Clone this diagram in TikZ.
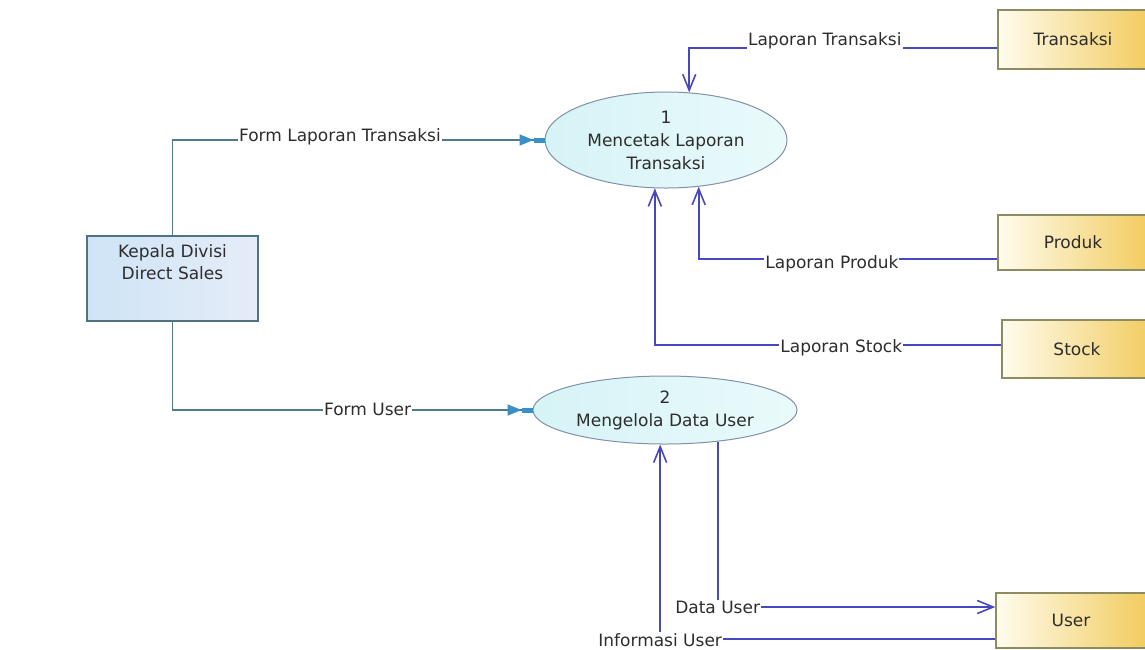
\documentclass[tikz,border=0pt]{standalone}
\usepackage{fontspec}
\setmainfont{DejaVu Sans}
\usetikzlibrary{arrows.meta,shapes.geometric}

\definecolor{flow}{RGB}{72,72,190}
\definecolor{formline}{RGB}{80,122,138}
\definecolor{formtip}{RGB}{58,143,198}
\definecolor{txt}{RGB}{45,45,45}
\definecolor{procfill}{RGB}{214,243,246}
\definecolor{procfillB}{RGB}{234,250,251}
\definecolor{procline}{RGB}{130,145,165}
\definecolor{extfillA}{RGB}{206,228,246}
\definecolor{extfillB}{RGB}{230,236,248}
\definecolor{extline}{RGB}{80,115,130}
\definecolor{storeA}{RGB}{255,252,238}
\definecolor{storeB}{RGB}{242,204,96}
\definecolor{storeline}{RGB}{140,140,96}

\begin{document}
\begin{tikzpicture}[x=1pt,y=-1pt,
  every node/.style={font=\fontsize{17}{23}\selectfont, text=txt},
  proc/.style={ellipse, draw=procline, line width=1pt, left color=procfill, right color=procfillB, inner sep=0pt, align=center},
  extent/.style={rectangle, draw=extline, line width=1.4pt, left color=extfillA, right color=extfillB},
  store/.style={rectangle, draw=storeline, line width=1.4pt, left color=storeA, right color=storeB, minimum width=150pt, inner sep=0pt},
  flowline/.style={draw=flow, line width=2pt, -{Straight Barb[length=16pt,width=13pt,line width=1.6pt]}},
  formflow/.style={draw=formline, line width=1.6pt, -{Triangle[length=14pt,width=11pt,color=formtip] Rectangle[length=11pt,width=5pt,color=formtip]}},
  lbl/.style={fill=white, inner sep=1pt}
]
\useasboundingbox (0,0) rectangle (1145,649);
\clip (0,0) rectangle (1145,649);
\fill[white] (0,0) rectangle (1145,649);

% data stores on the right
\node[store, minimum height=59pt] (trans) at (1073,39.5) {Transaksi};
\node[store, minimum height=55pt] (prod) at (1073,242.5) {Produk};
\node[store, minimum height=58pt] (stock) at (1077,349) {Stock};
\node[store, minimum height=55pt] (user) at (1071,620.5) {User};

% processes
\node[proc, minimum width=242pt, minimum height=96pt] (p1) at (666,140) {1\\Mencetak Laporan\\Transaksi};
\node[proc, minimum width=264pt, minimum height=68pt] (p2) at (665,410) {2\\Mengelola Data User};

% external entity
\node[extent, minimum width=171pt, minimum height=85pt] (kepala) at (172.5,278.5) {};
\node[align=center, font=\fontsize{17}{22}\selectfont] (kepalaLbl) at (172.5,262) {Kepala Divisi\\Direct Sales};

% flows from the external entity
\draw[formflow] (kepala.north) |- node[lbl, pos=0.725, yshift=3pt] {Form Laporan Transaksi} (p1.west);
\draw[formflow] (kepala.south) |- node[lbl, pos=0.771, yshift=1pt] {Form User} (p2.west);

% flows from the stores into process 1
\draw[flowline] ([yshift=-8pt]trans.west) -| node[lbl, pos=0.28, yshift=6.5pt] {Laporan Transaksi} (p1.64);
\draw[flowline] ([yshift=-16.5pt]prod.west) -| node[lbl, pos=0.277, yshift=-5pt] {Laporan Produk} (p1.-55);
\draw[flowline] ([yshift=4pt]stock.west) -| node[lbl, pos=0.231, yshift=-3pt] {Laporan Stock} (p1.-103);

% flows between process 2 and the user store
\draw[flowline] ([yshift=-18.5pt]user.west) -| node[lbl, pos=0.5, yshift=-1pt] {Informasi User} (p2.-98);
\draw[flowline] (p2.-31) |- node[lbl, pos=0.5] {Data User} ([yshift=13.5pt]user.west);
\end{tikzpicture}
\end{document}
